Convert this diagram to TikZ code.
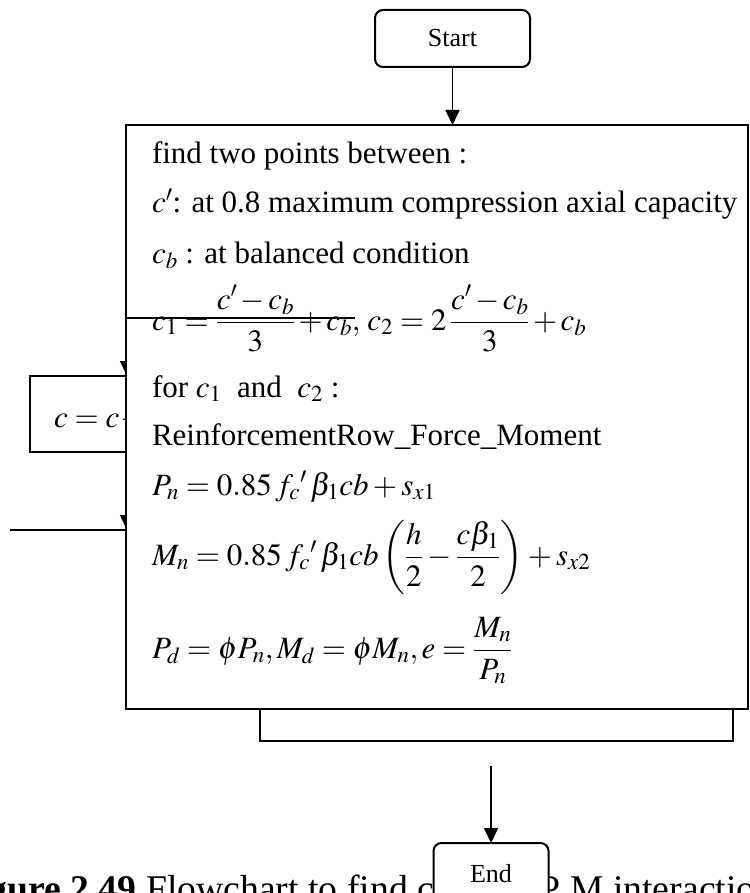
\documentclass[tikz,border=0pt]{standalone}
\usepackage{amsmath}
\usepackage{mathptmx}
\usepackage{fontspec}
\setmainfont{Liberation Serif}
\usetikzlibrary{arrows.meta}
\begin{document}
\begin{tikzpicture}[x=1pt,y=-1pt,
  box/.style={draw, line width=2pt, inner sep=0pt, outer sep=0pt},
  rbox/.style={box, rounded corners=8pt},
  txt/.style={anchor=base west, inner sep=0pt, outer sep=0pt, font=\fontsize{31}{37}\selectfont},
  lbl/.style={font=\fontsize{26}{31}\selectfont},
  arr/.style={line width=1.6pt, -{Triangle[length=15pt,width=14pt]}},
  ln/.style={line width=1.6pt}]
\useasboundingbox (0,0) rectangle (749,893);
\clip (0,0) rectangle (749,893);
% caption (partly hidden)
\node[anchor=base west, inner sep=0pt, font=\fontsize{37.7}{45}\selectfont] (cap) at (-45,901)
  {\textbf{Figure 2.49} Flowchart to find column P M interaction diagram};
% left box
\node[box, minimum width=110pt, minimum height=76pt] (leftbox) at (85,414) {};
\node[txt] (leftlbl) at (54,427) {$c = c\mkern-2mu -{}$};
% connectors hidden under main box
\coordinate (k1) at (127,318);
\coordinate (h1) at (355,318);
\coordinate (k2) at (127,530);
\coordinate (w2) at (10,530);
\draw[arr] (k1) -- (leftbox.north -| k1);
\draw[arr] (leftbox.south -| k2) -- (k2);
\draw[ln] (w2) -- (k2);
% main box
\node[box, fill=white, minimum width=622pt, minimum height=584pt] (main) at (437,417) {};
\node[box, minimum width=473pt, minimum height=32pt] (lower) at (496.5,725) {};
% text lines
\node[txt] (l1) at (152,164) {find two points between :};
\node[txt] (l2) at (152,213) {$c'$: at 0.8 maximum compression axial capacity};
\node[txt] (l3) at (152,263) {$c_b$ : at balanced condition};
\node[txt] (l4) at (152,330) {\medmuskip=2mu $c_1 = \dfrac{c'-c_b}{3} + c_b,\, c_2 = 2\,\dfrac{c'-c_b}{3} + c_b$};
\node[txt] (l5) at (152,397) {for $c_1$\ \ and\ \ $c_2$ :};
\node[txt] (l6) at (152,445) {ReinforcementRow\_Force\_Moment};
\node[txt] (l7) at (152,495) {$P_n = 0.85\, f_c{}'\,\beta_1 cb + s_{x1}$};
\node[txt] (l8) at (152,565) {$M_n = 0.85\, f_c{}'\,\beta_1 cb\left(\dfrac{h}{2} - \dfrac{c\beta_1}{2}\right) + s_{x2}$};
\node[txt] (l9) at (152,658) {$P_d = \phi P_n, M_d = \phi M_n, e = \dfrac{M_n}{P_n}$};
% line crossing the formula
\draw[ln] (k1) -- (h1);
% start
\node[rbox, lbl, fill=white, minimum width=155pt, minimum height=57pt] (start) at (452.5,38.5) {Start};
\draw[arr] (start.south) -- (start.south |- main.north);
% end
\coordinate (ea) at (491,766);
\node[rbox, lbl, fill=white, minimum width=115pt, minimum height=62pt] (endn) at (491,874) {End};
\draw[arr] (ea) -- (endn.north);
\end{tikzpicture}
\end{document}
